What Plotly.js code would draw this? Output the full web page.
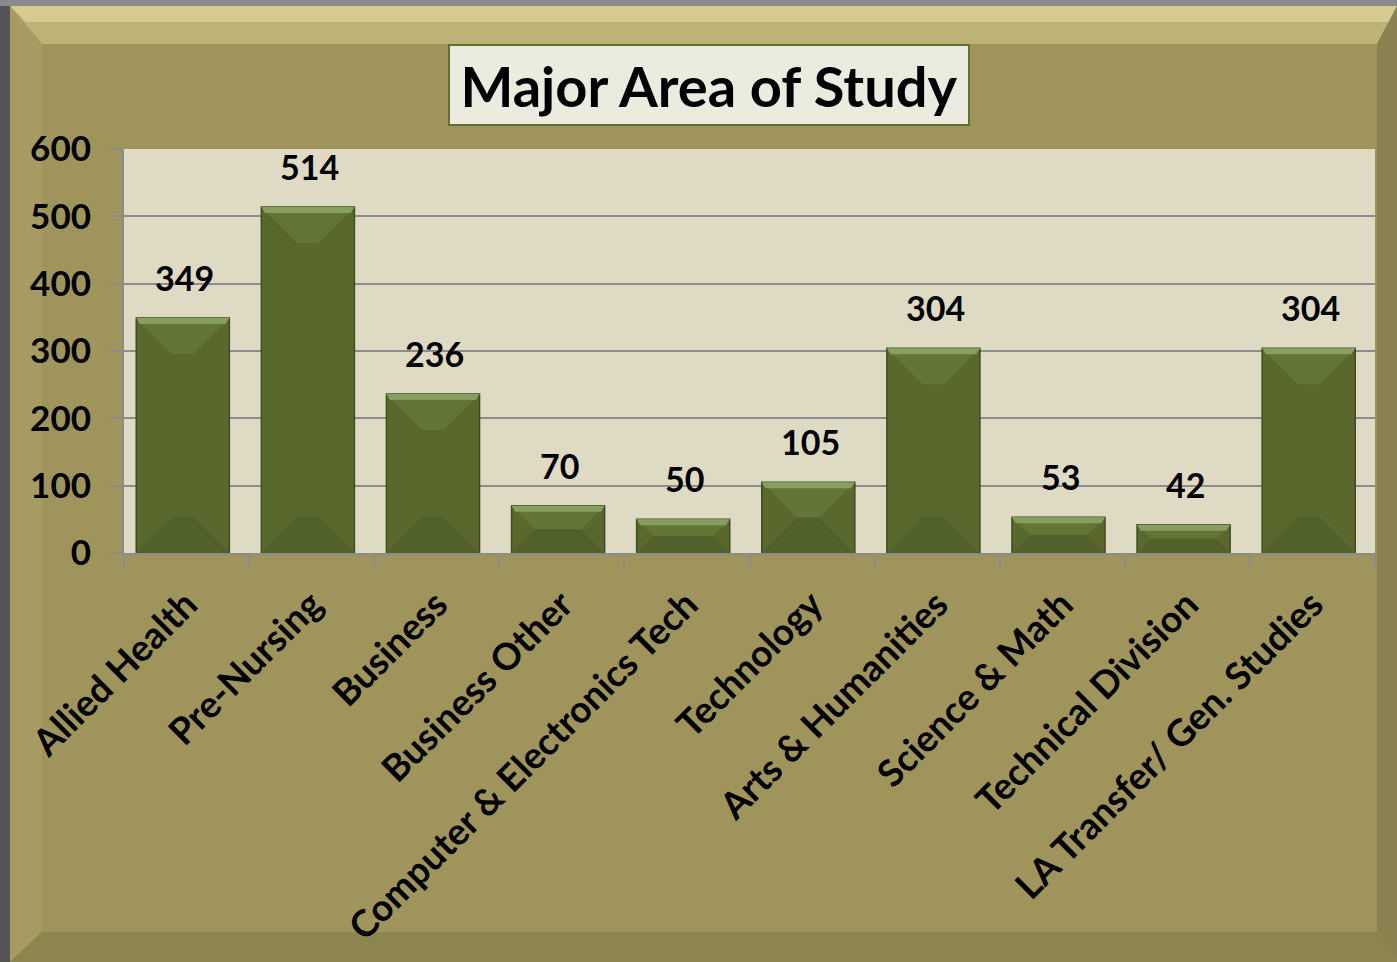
<!DOCTYPE html>
<html><head><meta charset="utf-8">
<script src="https://cdn.plot.ly/plotly-3.0.1.min.js"></script>
<style>html,body{margin:0;padding:0;background:#5a5a5a;}#chart{width:1397px;height:962px;}</style>
</head><body><div id="chart"></div>
<script>
const categories = ["Allied Health","Pre-Nursing","Business","Business Other","Computer & Electronics Tech","Technology","Arts & Humanities","Science & Math","Technical Division","LA Transfer/ Gen. Studies"];
const values = [349,514,236,70,50,105,304,53,42,304];
const yTicks = [0,100,200,300,400,500,600];
const chartTitle = "Major Area of Study";

const W = 1397, H = 962, L = 124, R = 22, T = 149, B = 409;
const pw = W - L - R, ph = H - T - B;
const px = x => (x - L) / pw;
const py = y => (H - B - y) / ph;
const FONT = "Lato, 'Open Sans', sans-serif";

function poly(pts, color) {
  return {type:'path', xref:'paper', yref:'paper', layer:'below', line:{width:0}, fillcolor:color,
    path: 'M ' + pts.map(p => px(p[0]) + ',' + py(p[1])).join(' L ') + ' Z'};
}
const shapes = [];
// outer frame edges (decoration only)
shapes.push(poly([[0,0],[10,0],[10,H],[0,H]], '#555555'));
shapes.push(poly([[0,0],[W,0],[W,6],[0,6]], '#8a8a8a'));
shapes.push(poly([[10,6],[W,6],[W-20,44],[42,44]], '#bdb377'));
shapes.push(poly([[10,6],[W,6],[W-8,22],[26,22]], '#d4cb90'));
shapes.push(poly([[10,6],[42,44],[42,H-30],[10,H]], '#a69c63'));
shapes.push(poly([[W,6],[W,H],[W-20,H-30],[W-20,44]], '#8a8250'));
shapes.push(poly([[10,H],[W,H],[W-20,H-30],[42,H-30]], '#8d854f'));

// bar bevels, positioned from the data through the axes
const hw = 0.372, shift = -0.03;
const unitsPerPx = 600 / ph, catPerPx = 1 / pw * categories.length;
values.forEach((v, i) => {
  const c = i + shift;
  const dpx = Math.min(36, v / unitsPerPx / 2);
  const d = dpx * unitsPerPx, inset = dpx * catPerPx;
  shapes.push({type:'path', xref:'x', yref:'y', line:{width:0}, fillcolor:'#637638',
    path:`M ${c-hw},${v} L ${c+hw},${v} L ${c+hw-inset},${v-d} L ${c-hw+inset},${v-d} Z`});
  shapes.push({type:'path', xref:'x', yref:'y', line:{width:0}, fillcolor:'#51612a',
    path:`M ${c-hw},0 L ${c+hw},0 L ${c+hw-inset},${d} L ${c-hw+inset},${d} Z`});
  shapes.push({type:'path', xref:'x', yref:'y', line:{width:0}, fillcolor:'#889e5e',
    path:`M ${c-hw},${v} L ${c+hw},${v} L ${c+hw-0.03},${v-6*unitsPerPx} L ${c-hw+0.03},${v-6*unitsPerPx} Z`});
});

const annotations = values.map((v, i) => ({
  x: categories[i], y: v, xref:'x', yref:'y', xshift:-2, text: String(v), showarrow:false,
  yanchor:'bottom', yshift: 18, font:{family:FONT, size:34, color:'#000', weight:'bold'}
}));
annotations.push({
  xref:'paper', yref:'paper', x: px(708.5), y: py(85), xanchor:'center', yanchor:'middle',
  text: chartTitle, showarrow:false, bgcolor:'#ecebe0', bordercolor:'#5f7035', borderwidth:2,
  width: 516, height: 76, font:{family:FONT, size:56, color:'#000', weight:'bold'}
});

const trace = {
  type:'bar', x: categories, y: values, width: 0.744, offset: -0.372 + shift,
  marker:{color:'#59692e', line:{color:'#3f4c1f', width:1.5}},
  hoverinfo:'x+y', cliponaxis:false
};

const layout = {
  width: W, height: H, margin:{l:L, r:R, t:T, b:B, pad:0},
  paper_bgcolor:'#9f955c', plot_bgcolor:'#dedac4',
  showlegend:false, shapes, annotations,
  font:{family:FONT, color:'#000'},
  xaxis:{type:'category', tickson:'boundaries', ticks:'outside', ticklen:13, tickwidth:2, tickcolor:'#8c8c8c',
    tickangle:-45, tickfont:{family:FONT, size:37, color:'#000', weight:'bold'}, ticklabelstandoff:13,
    showline:true, linecolor:'#8c8c8c', linewidth:2, showgrid:false, fixedrange:true},
  yaxis:{range:[0,600], tickvals:yTicks, ticks:'outside', ticklen:12, tickwidth:2, tickcolor:'#8c8c8c',
    tickfont:{family:FONT, size:35, color:'#000', weight:'bold'}, ticklabelstandoff:12,
    showline:true, linecolor:'#8c8c8c', linewidth:2, gridcolor:'#8c8c8c', gridwidth:2,
    zeroline:false, fixedrange:true}
};
Plotly.newPlot('chart', [trace], layout, {displayModeBar:false, staticPlot:true});
</script></body></html>
